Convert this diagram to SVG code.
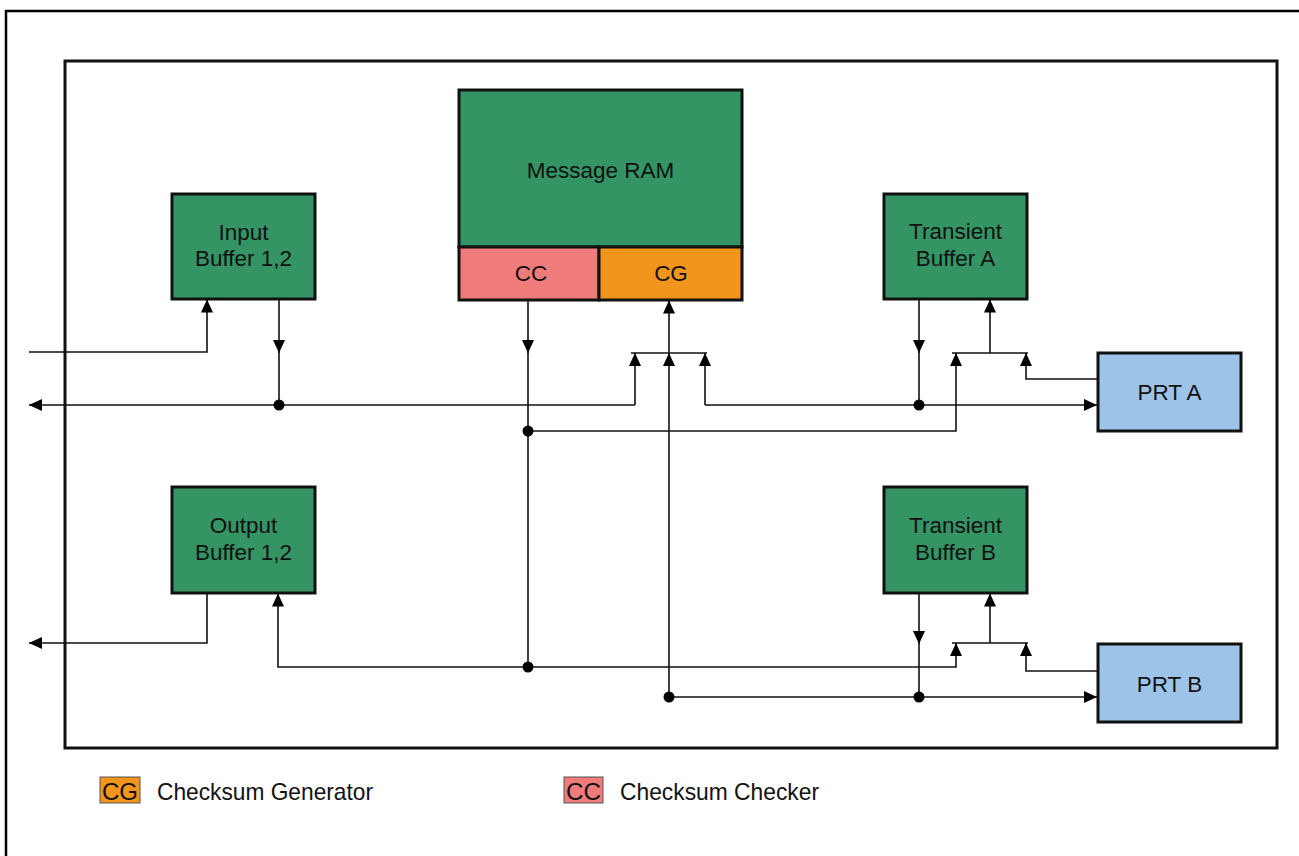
<svg xmlns="http://www.w3.org/2000/svg" width="1299" height="856" viewBox="0 0 1299 856">
<style>
.box{stroke:#111;stroke-width:3}
.green{fill:#349464}
.cc{fill:#EF7B7B}
.cg{fill:#F2951C}
.prt{fill:#9DC4E8}
.t{font-family:"Liberation Sans",Arial,sans-serif;font-size:22.5px;fill:#111;text-anchor:middle}
.lt{font-family:"Liberation Sans",Arial,sans-serif;font-size:24px;fill:#111}
.c{fill:none;stroke:#111;stroke-width:1.6}
.a{marker-end:url(#ah)}
.dot{fill:#000}
</style>
<defs>
<marker id="ah" markerUnits="userSpaceOnUse" markerWidth="13" markerHeight="13" refX="13" refY="6.5" orient="auto" viewBox="0 0 13 13">
<path d="M0,0.5 L13,6.5 L0,12.5 z" fill="#000"/>
</marker>
</defs>
<rect width="1299" height="856" fill="#fff"/>
<g id="frame">
<path d="M6,856 V11 H1299" fill="none" stroke="#000" stroke-width="2.5"/>
<rect x="65" y="61" width="1212" height="687" fill="none" stroke="#111" stroke-width="3"/>
</g>
<g id="connectors">
<path class="c a" d="M29,352 H207 V299.5"/>
<path class="c a" d="M279,299 V353"/>
<path class="c" d="M279,352 V405"/>
<path class="c a" d="M635,405 V353"/>
<path class="c a" d="M635,405 H29"/>
<path class="c a" d="M705,405 V353"/>
<path class="c a" d="M705,405 H1097"/>
<path class="c a" d="M919,299 V353"/>
<path class="c" d="M919,352 V405"/>
<path class="c a" d="M528,300 V353"/>
<path class="c" d="M528,352 V667"/>
<path class="c a" d="M528,431 H956 V353"/>
<path class="c" d="M952,353 H1028"/>
<path class="c a" d="M990,353 V299.5"/>
<path class="c a" d="M1098,379 H1026 V353"/>
<path class="c" d="M631,353 H707"/>
<path class="c a" d="M669,353 V300.5"/>
<path class="c a" d="M669,697 V353"/>
<path class="c a" d="M669,697 H1097"/>
<path class="c a" d="M919,593 V644"/>
<path class="c" d="M919,643 V697"/>
<path class="c" d="M952,643 H1028"/>
<path class="c a" d="M990,643 V593.5"/>
<path class="c a" d="M1098,671 H1026 V643"/>
<path class="c a" d="M528,667 H956 V643"/>
<path class="c a" d="M528,667 H278 V593.5"/>
<path class="c a" d="M207,593 V643 H29"/>
<circle class="dot" cx="279" cy="405" r="5.5"/>
<circle class="dot" cx="919" cy="405" r="5.5"/>
<circle class="dot" cx="528" cy="431" r="5.5"/>
<circle class="dot" cx="528" cy="667" r="5.5"/>
<circle class="dot" cx="669" cy="697" r="5.5"/>
<circle class="dot" cx="919" cy="697" r="5.5"/>
</g>
<g id="input-buffer">
<rect class="box green" x="172" y="194" width="143" height="105"/>
<text class="t" x="243.5" y="240">Input</text>
<text class="t" x="243.5" y="266">Buffer 1,2</text>
</g>
<g id="message-ram">
<rect class="box green" x="459" y="90" width="283" height="157"/>
<text class="t" x="600.5" y="178">Message RAM</text>
</g>
<g id="cc">
<rect class="box cc" x="459" y="247" width="140" height="53"/>
<text class="t" x="531" y="281">CC</text>
</g>
<g id="cg">
<rect class="box cg" x="599" y="247" width="143" height="53"/>
<text class="t" x="671" y="281">CG</text>
</g>
<g id="transient-buffer-a">
<rect class="box green" x="884" y="194" width="143" height="105"/>
<text class="t" x="955.5" y="239">Transient</text>
<text class="t" x="955.5" y="266">Buffer A</text>
</g>
<g id="prt-a">
<rect class="box prt" x="1098" y="353" width="143" height="78"/>
<text class="t" x="1169.5" y="400">PRT A</text>
</g>
<g id="output-buffer">
<rect class="box green" x="172" y="487" width="143" height="106"/>
<text class="t" x="243.5" y="533">Output</text>
<text class="t" x="243.5" y="560">Buffer 1,2</text>
</g>
<g id="transient-buffer-b">
<rect class="box green" x="884" y="487" width="143" height="106"/>
<text class="t" x="955.5" y="533">Transient</text>
<text class="t" x="955.5" y="560">Buffer B</text>
</g>
<g id="prt-b">
<rect class="box prt" x="1098" y="644" width="143" height="78"/>
<text class="t" x="1169.5" y="692">PRT B</text>
</g>
<g id="legend-cg">
<rect x="100" y="777" width="40" height="26" fill="#F2951C" stroke="#555" stroke-width="1"/>
<text class="lt" x="120" y="800" text-anchor="middle" textLength="36" lengthAdjust="spacingAndGlyphs">CG</text>
<text class="lt" x="157" y="800" textLength="216" lengthAdjust="spacingAndGlyphs">Checksum Generator</text>
</g>
<g id="legend-cc">
<rect x="564" y="777" width="39" height="26" fill="#EF7B7B" stroke="#555" stroke-width="1"/>
<text class="lt" x="583.5" y="800" text-anchor="middle" textLength="35" lengthAdjust="spacingAndGlyphs">CC</text>
<text class="lt" x="620" y="800" textLength="199" lengthAdjust="spacingAndGlyphs">Checksum Checker</text>
</g>
</svg>
